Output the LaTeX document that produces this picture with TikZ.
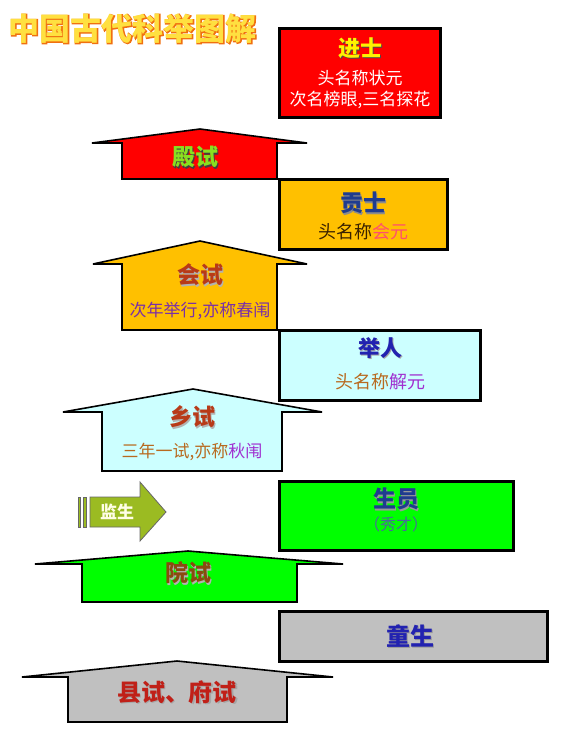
\documentclass[tikz,border=0pt]{standalone}
\usepackage{fontspec}
\newfontfamily\cjk{Noto Sans CJK SC}
\newfontfamily\cjkglow[FakeBold=4, BoldFeatures={FakeBold=4}]{Noto Sans CJK SC}
\usetikzlibrary{calc}
\definecolor{gold}{HTML}{FFC000}
\definecolor{lcyan}{HTML}{CCFFFF}
\definecolor{lgreen}{HTML}{00FF00}
\definecolor{lgrey}{HTML}{C0C0C0}
\definecolor{olive}{HTML}{9BBB22}
\definecolor{titleyellow}{HTML}{FFE040}
\definecolor{titleorange}{HTML}{F07010}
\definecolor{dblue}{HTML}{1F3C8F}
\definecolor{mblue}{HTML}{2222B0}
\definecolor{brownred}{HTML}{B83A18}
\definecolor{purp}{HTML}{7A2FA8}
\definecolor{violet}{HTML}{A030D0}
\definecolor{pinkred}{HTML}{FF4F6F}
\definecolor{ochre}{HTML}{B86A20}
\definecolor{dbrown}{HTML}{3A2200}
\definecolor{grblue}{HTML}{4A6A9A}
\definecolor{leaf}{HTML}{88E020}
\definecolor{rust}{HTML}{8A4A10}
\definecolor{crim}{HTML}{C02018}
\newcommand{\fs}[1]{\fontsize{#1}{#1}\selectfont\cjk}
\tikzset{
  rankbox/.style={draw=black, line width=3pt},
  house/.style={draw=black, line width=1.6pt, line join=miter, miter limit=4},
  txt/.style={inner sep=0pt, outer sep=0pt},
}
\newcommand{\shtext}[6]{%
  \node[txt, text=#5, font=\fs{#3}\bfseries] (#1s) at ($#2+(1.5,1.5)$) {#6};
  \node[txt, text=#4, font=\fs{#3}\bfseries] (#1) at #2 {#6};}
\begin{document}
\begin{tikzpicture}[x=1pt,y=-1pt]
\useasboundingbox[fill=white] (0,0) rectangle (572,740);

% title with glow
\node[txt, text=titleorange, font=\fontsize{31}{31}\selectfont\cjkglow\bfseries] (titleglow) at (133,29) {中国古代科举图解};
\node[txt, text=titleyellow, font=\fs{31}\bfseries] (title) at (133,29) {中国古代科举图解};

% right-side rank boxes
\draw[rankbox, fill=red] (279,28) rectangle (440,117);
\draw[rankbox, fill=gold] (279,179) rectangle (447,249);
\draw[rankbox, fill=lcyan] (279,330) rectangle (480,400);
\draw[rankbox, fill=lgreen] (279,481) rectangle (513,550);
\draw[rankbox, fill=lgrey] (279,611) rectangle (547,661);

% box texts
\shtext{jinshi}{(360,48)}{22}{yellow}{black!70}{进士}
\node[txt, text=white, font=\fs{17}] (jinshi1) at (360,78) {头名称状元};
\node[txt, text=white, font=\fs{17}] (jinshi2) at (360,100) {次名榜眼,三名探花};

\shtext{gongshi}{(363,203)}{23}{dblue}{black!45}{贡士}
\node[txt, font=\fs{18}] (gongshi1) at (363,232) {\textcolor{dbrown}{头名称}\textcolor{pinkred}{会元}};

\shtext{juren}{(380,348)}{22}{mblue}{black!35}{举人}
\node[txt, font=\fs{18}] (juren1) at (380,382) {\textcolor{ochre}{头名称}\textcolor{violet}{解元}};

\shtext{shengyuan}{(396,499)}{23}{dblue}{black!40}{生员}
\node[txt, text=grblue, font=\fs{16}] (shengyuan1) at (396,524) {（秀才）};

\shtext{tongsheng}{(410,636)}{24}{mblue}{black!40}{童生}

% exam arrows (houses)
\draw[house, fill=red] (92,143) -- (200,129) -- (307,143) -- (277,143) -- (277,179) -- (122,179) -- (122,143) -- cycle;
\draw[house, fill=gold] (93,264) -- (200,241) -- (307,264) -- (277,264) -- (277,330) -- (122,330) -- (122,264) -- cycle;
\draw[house, fill=lcyan] (63,412) -- (193,389) -- (322,412) -- (282,412) -- (282,471) -- (102,471) -- (102,412) -- cycle;
\draw[house, fill=lgreen] (35,564) -- (188,551) -- (343,564) -- (297,564) -- (297,602) -- (82,602) -- (82,564) -- cycle;
\draw[house, fill=lgrey] (22,677) -- (177,661) -- (333,677) -- (287,677) -- (287,722) -- (68,722) -- (68,677) -- cycle;

% exam texts
\shtext{dianshi}{(195,157)}{23}{leaf}{black!75}{殿试}
\shtext{huishi}{(200,275)}{23}{brownred}{black!30}{会试}
\node[txt, text=purp, font=\fs{17}] (huishi1) at (200,311) {次年举行,亦称春闱};
\shtext{xiangshi}{(192,417)}{23}{brownred}{black!30}{乡试}
\node[txt, font=\fs{17}] (xiangshi1) at (192,452) {\textcolor{ochre}{三年一试,亦称}\textcolor{violet}{秋闱}};
\shtext{yuanshi}{(188,573)}{23}{rust}{black!30}{院试}
\shtext{xianshi}{(177,692)}{24}{crim}{black!35}{县试、府试}

% jiansheng arrow
\draw[draw=black!60, line width=0.8pt, fill=olive] (78,497) rectangle (80,527);
\draw[draw=black!60, line width=0.8pt, fill=olive] (83,497) rectangle (86,527);
\draw[draw=black!60, line width=0.8pt, fill=olive, line join=miter] (90,497) -- (140,497) -- (140,482) -- (166,512) -- (140,541) -- (140,527) -- (90,527) -- cycle;
\node[txt, text=white!90!yellow, font=\fs{17}\bfseries] (jiansheng) at (117,512) {监生};
\end{tikzpicture}
\end{document}
